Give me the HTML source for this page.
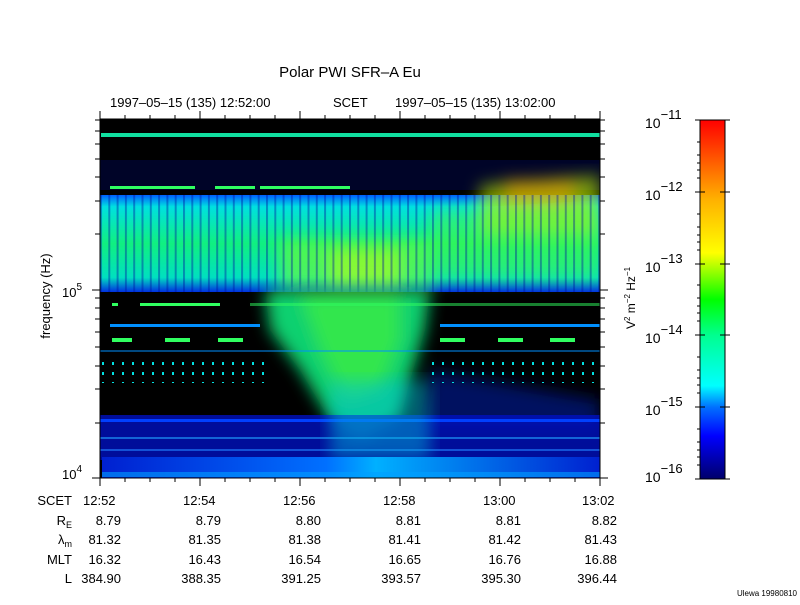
<!DOCTYPE html>
<html><head><meta charset="utf-8"><style>
html,body{margin:0;padding:0;background:#fff;}
svg text{font-family:"Liberation Sans",sans-serif;fill:#000;}
</style></head><body>
<svg width="800" height="600" xmlns="http://www.w3.org/2000/svg">
<defs>
<linearGradient id="cb" x1="0" y1="1" x2="0" y2="0">
<stop offset="0" stop-color="#00006a"/><stop offset="0.12" stop-color="#0000ff"/>
<stop offset="0.2" stop-color="#0070ff"/><stop offset="0.26" stop-color="#00ffff"/>
<stop offset="0.4" stop-color="#00ff90"/><stop offset="0.5" stop-color="#00ff00"/>
<stop offset="0.63" stop-color="#ffff00"/><stop offset="0.78" stop-color="#ffb000"/>
<stop offset="0.88" stop-color="#ff6000"/><stop offset="1" stop-color="#ff0000"/>
</linearGradient>
<linearGradient id="band" x1="0" y1="0" x2="0" y2="1">
<stop offset="0" stop-color="#0060ff"/><stop offset="0.12" stop-color="#00e0e0"/>
<stop offset="0.5" stop-color="#10f080"/><stop offset="0.85" stop-color="#00e0c0"/>
<stop offset="1" stop-color="#0030e0"/>
</linearGradient>
<linearGradient id="bot" x1="0" y1="0" x2="1" y2="0">
<stop offset="0" stop-color="#0020d0"/><stop offset="0.45" stop-color="#0070ff"/>
<stop offset="0.55" stop-color="#00b0ff"/><stop offset="1" stop-color="#0020d0"/>
</linearGradient>
<pattern id="stripes" width="8.3" height="10" patternUnits="userSpaceOnUse" x="100">
<rect x="0" y="0" width="2" height="10" fill="#0010a0" opacity="0.4"/>
</pattern>
<pattern id="dots" width="10" height="10" patternUnits="userSpaceOnUse" x="100">
<rect x="2" y="2" width="2" height="3" fill="#00e0e0"/>
</pattern>
<filter id="bl"><feGaussianBlur stdDeviation="8"/></filter>
<clipPath id="pc"><rect x="100" y="119" width="500" height="359"/></clipPath>
</defs>

<text x="350" y="77" font-size="15" text-anchor="middle">Polar PWI SFR–A Eu</text>
<text x="110" y="107" font-size="13">1997–05–15 (135) 12:52:00</text>
<text x="333" y="107" font-size="13">SCET</text>
<text x="395" y="107" font-size="13">1997–05–15 (135) 13:02:00</text>

<g clip-path="url(#pc)">
<rect x="100" y="119" width="500" height="359" fill="#000"/>
<rect x="101" y="133" width="499" height="4" fill="#10e0a0"/>
<rect x="100" y="160" width="500" height="30" fill="#0010a0" opacity="0.25"/>
<rect x="100" y="195" width="500" height="97" fill="url(#band)"/>
<g filter="url(#bl)">
<rect x="280" y="240" width="150" height="50" fill="#80ff20" opacity="0.55"/>
<rect x="330" y="250" width="70" height="40" fill="#d0ff00" opacity="0.45"/>
<path d="M480 185 L600 175 L600 235 L480 235 Z" fill="#c0f000" opacity="0.6"/>
<rect x="505" y="180" width="70" height="25" fill="#ffa000" opacity="0.5"/>
<path d="M430 210 L600 200 L600 280 L430 280 Z" fill="#60ff20" opacity="0.35"/>
</g>
<rect x="100" y="195" width="500" height="97" fill="url(#stripes)"/>
<g filter="url(#bl)">
<path d="M265 290 L430 290 L425 330 L410 380 L400 420 L360 440 L330 420 L300 370 L270 330 Z" fill="#10d070"/>
<path d="M300 295 L400 295 L400 340 L380 390 L345 400 L320 350 Z" fill="#40f040" opacity="0.7"/>
<path d="M430 370 L600 400 L600 430 L420 430 Z" fill="#0020c0" opacity="0.5"/>
</g>
<g fill="#30ff60">
<rect x="110" y="186" width="85" height="3"/><rect x="215" y="186" width="40" height="3"/><rect x="260" y="186" width="90" height="3"/>
<rect x="112" y="303" width="6" height="3"/><rect x="140" y="303" width="80" height="3"/><rect x="250" y="303" width="350" height="3" opacity="0.5"/>
<rect x="112" y="338" width="20" height="4"/><rect x="165" y="338" width="25" height="4"/><rect x="218" y="338" width="25" height="4"/>
<rect x="440" y="338" width="25" height="4"/><rect x="498" y="338" width="25" height="4"/><rect x="550" y="338" width="25" height="4"/>
</g>
<g fill="#0090ff">
<rect x="110" y="324" width="150" height="3"/><rect x="440" y="324" width="160" height="3"/>
<rect x="100" y="350" width="500" height="2" opacity="0.5"/>
</g>
<rect x="100" y="355" width="170" height="28" fill="url(#dots)"/>
<rect x="430" y="355" width="170" height="28" fill="url(#dots)"/>
<rect x="100" y="415" width="500" height="45" fill="#0010c0" opacity="0.8"/>
<rect x="100" y="419" width="500" height="3" fill="#0040ff"/>
<rect x="100" y="437" width="500" height="2" fill="#20a0ff" opacity="0.6"/>
<rect x="100" y="449" width="500" height="2" fill="#2080ff" opacity="0.6"/>
<rect x="330" y="380" width="100" height="80" fill="#00c0e0" opacity="0.45" filter="url(#bl)"/>
<rect x="102" y="457" width="498" height="21" fill="url(#bot)"/>
<rect x="102" y="472" width="498" height="5" fill="#00a0ff" opacity="0.6"/>
</g>
<rect x="100" y="119" width="500" height="359" fill="none" stroke="#000" stroke-width="1"/>

<g stroke="#000" stroke-width="1">
<path d="M100 478v8M150 478v4M175 478v4M125 478v4M200 478v8M225 478v4M250 478v4M275 478v4M300 478v8M325 478v4M350 478v4M375 478v4M400 478v8M425 478v4M450 478v4M475 478v4M500 478v8M525 478v4M550 478v4M575 478v4M600 478v8"/>
<path d="M100 119v-8M125 119v-4M150 119v-4M175 119v-4M200 119v-8M225 119v-4M250 119v-4M275 119v-4M300 119v-8M325 119v-4M350 119v-4M375 119v-4M400 119v-8M425 119v-4M450 119v-4M475 119v-4M500 119v-8M525 119v-4M550 119v-4M575 119v-4M600 119v-8"/>
<path d="M92 290h8M92 478h8M608 290h-8M608 478h-8"/>
<path d="M95 423h5M95 389h5M95 366h5M95 347h5M95 332h5M95 319h5M95 308h5M95 298h5M95 234h5M95 201h5M95 177h5M95 159h5M95 144h5M95 131h5M95 120h5"/>
<path d="M605 423h-5M605 389h-5M605 366h-5M605 347h-5M605 332h-5M605 319h-5M605 308h-5M605 298h-5M605 234h-5M605 201h-5M605 177h-5M605 159h-5M605 144h-5M605 131h-5M605 120h-5"/>
</g>
<text x="62" y="297" font-size="13">10<tspan font-size="10" dy="-7">5</tspan></text>
<text x="62" y="479" font-size="13">10<tspan font-size="10" dy="-7">4</tspan></text>
<text transform="translate(50,296) rotate(-90)" font-size="13" text-anchor="middle">frequency (Hz)</text>

<g font-size="13">
<text x="72" y="505" text-anchor="end">SCET</text>
<text x="72" y="525" text-anchor="end">R<tspan font-size="9" dy="3">E</tspan></text>
<text x="72" y="544" text-anchor="end">λ<tspan font-size="9" dy="3">m</tspan></text>
<text x="72" y="564" text-anchor="end">MLT</text>
<text x="72" y="583" text-anchor="end">L</text>
<text x="83" y="505">12:52</text><text x="183" y="505">12:54</text><text x="283" y="505">12:56</text>
<text x="383" y="505">12:58</text><text x="483" y="505">13:00</text><text x="582" y="505">13:02</text>
</g>
<g font-size="13" text-anchor="end">
<text x="121" y="525">8.79</text><text x="221" y="525">8.79</text><text x="321" y="525">8.80</text><text x="421" y="525">8.81</text><text x="521" y="525">8.81</text><text x="617" y="525">8.82</text>
<text x="121" y="544">81.32</text><text x="221" y="544">81.35</text><text x="321" y="544">81.38</text><text x="421" y="544">81.41</text><text x="521" y="544">81.42</text><text x="617" y="544">81.43</text>
<text x="121" y="564">16.32</text><text x="221" y="564">16.43</text><text x="321" y="564">16.54</text><text x="421" y="564">16.65</text><text x="521" y="564">16.76</text><text x="617" y="564">16.88</text>
<text x="121" y="583">384.90</text><text x="221" y="583">388.35</text><text x="321" y="583">391.25</text><text x="421" y="583">393.57</text><text x="521" y="583">395.30</text><text x="617" y="583">396.44</text>
</g>

<rect x="700" y="120" width="25" height="359" fill="url(#cb)" stroke="#000" stroke-width="1"/>
<g stroke="#000"><path d="M695 120h10M720 120h10M695 192h10M720 192h10M695 264h10M720 264h10M695 335h10M720 335h10M695 407h10M720 407h10M695 479h10M720 479h10"/>
<path d="M697 142h3M697 155h3M697 163h3M697 170h3M697 178h3M697 214h3M697 227h3M697 235h3M697 242h3M697 250h3M697 285h3M697 298h3M697 306h3M697 313h3M697 321h3M697 357h3M697 370h3M697 378h3M697 385h3M697 393h3M697 429h3M697 442h3M697 450h3M697 457h3M697 465h3"/></g>
<g font-size="14">
<text x="645" y="128">10<tspan font-size="13" dy="-9">−11</tspan></text>
<text x="645" y="200">10<tspan font-size="13" dy="-9">−12</tspan></text>
<text x="645" y="272">10<tspan font-size="13" dy="-9">−13</tspan></text>
<text x="645" y="343">10<tspan font-size="13" dy="-9">−14</tspan></text>
<text x="645" y="415">10<tspan font-size="13" dy="-9">−15</tspan></text>
<text x="645" y="482">10<tspan font-size="13" dy="-9">−16</tspan></text>
</g>
<text transform="translate(635,298) rotate(-90)" font-size="12" text-anchor="middle">V<tspan font-size="8" dy="-5">2</tspan><tspan dy="5"> m</tspan><tspan font-size="8" dy="-5">−2</tspan><tspan dy="5"> Hz</tspan><tspan font-size="8" dy="-5">−1</tspan></text>
<text x="797" y="596" font-size="8" text-anchor="end">Ulewa 19980810</text>
</svg>
</body></html>
